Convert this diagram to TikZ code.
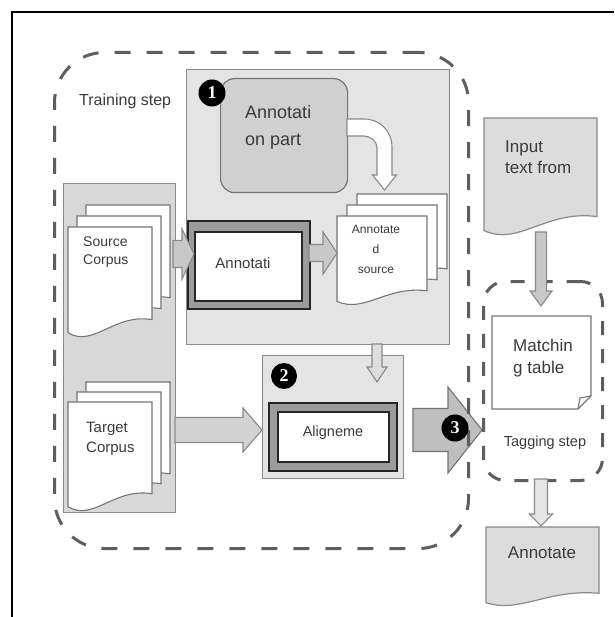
\documentclass[tikz,border=0pt]{standalone}
\usepackage{fontspec}
\setmainfont{Liberation Sans}
\newfontfamily\numfont{Liberation Serif}
\usetikzlibrary{calc}

\definecolor{ink}{HTML}{3A3A3A}
\definecolor{edge}{HTML}{8A8A8A}
\definecolor{dashc}{HTML}{5E5E5E}
\definecolor{panelfill}{HTML}{E4E4E4}
\definecolor{corpusfill}{HTML}{D8D8D8}
\definecolor{partfill}{HTML}{D0D0D0}
\definecolor{docfill}{HTML}{DCDCDC}
\definecolor{arrowfill}{HTML}{C8C8C8}
\definecolor{bandfill}{HTML}{9C9C9C}

% page with a wavy lower edge: x, y (top left), width, height, style
\newcommand\docsheet[5]{%
  \filldraw[#5] (#1,#2) -- ({#1+#3},#2) -- ({#1+#3},{#2+0.85*#4})
    .. controls ({#1+0.55*#3},{#2+0.79*#4}) and ({#1+0.3*#3},{#2+1.11*#4})
    .. (#1,{#2+0.97*#4}) -- cycle;}

% block arrow pointing right: [style]{from}{to}{shaft half}{head half}{head length}
\newcommand\rarrow[6][]{%
  \filldraw[#1] let \p1=(#2), \p2=(#3) in
    (\x1,{\y1+#4pt}) -- ({\x2-#6pt},{\y1+#4pt}) -- ({\x2-#6pt},{\y1+#5pt}) -- (\x2,\y1)
    -- ({\x2-#6pt},{\y1-#5pt}) -- ({\x2-#6pt},{\y1-#4pt}) -- (\x1,{\y1-#4pt}) -- cycle;}

% block arrow pointing down: [style]{from}{to}{shaft half}{head half}{head length}
\newcommand\darrow[6][]{%
  \filldraw[#1] let \p1=(#2), \p2=(#3) in
    ({\x1-#4pt},\y1) -- ({\x1-#4pt},{\y2+#6pt}) -- ({\x1-#5pt},{\y2+#6pt}) -- (\x1,\y2)
    -- ({\x1+#5pt},{\y2+#6pt}) -- ({\x1+#4pt},{\y2+#6pt}) -- ({\x1+#4pt},\y1) -- cycle;}

\tikzset{
  panel/.style={draw=edge, line width=1.2pt, rectangle, inner sep=0pt, anchor=north west},
  page/.style={draw=edge!85!black, fill=white, line width=1.1pt},
  graypage/.style={draw=edge, fill=docfill, line width=1.2pt},
  outerband/.style={panel, draw=black!85, fill=bandfill, line width=2pt},
  innerband/.style={panel, draw=black!85, fill=white, line width=1.6pt},
  blockarrow/.style={draw=edge, fill=arrowfill, line width=1.1pt},
  hollowarrow/.style={draw=edge, fill=white, line width=1.1pt},
  stepframe/.style={panel, draw=dashc, fill=none, line width=3pt,
    dash pattern=on 16pt off 16pt},
  numdot/.style={circle, fill=black, inner sep=0pt, minimum size=27pt, text=white,
    font=\numfont\bfseries\fontsize{18}{18}\selectfont},
  lbl/.style={text=ink, inner sep=0pt, align=left},
}

\begin{document}
\begin{tikzpicture}[x=1pt, y=-1pt]
\useasboundingbox (0,0) rectangle (614,617);
\fill[white] (0,0) rectangle (614,617);
\draw[line width=1.6pt, black] (12,617) -- (12,12) -- (614,12);

% ---- training side panels
\node[panel, fill=corpusfill, minimum width=112pt, minimum height=329pt] (corpus) at (63,183) {};
\node[panel, fill=panelfill, minimum width=263pt, minimum height=275pt] (stepone) at (186,69) {};
\node[panel, fill=panelfill, minimum width=141pt, minimum height=123pt] (steptwo) at (262,355) {};
\node[panel, fill=partfill, draw=edge!85!black, rounded corners=14pt,
      minimum width=127pt, minimum height=114pt] (annpart) at (220,78) {};

% ---- corpora stacks
\docsheet{86}{205}{84}{109}{page}
\docsheet{77}{216}{84}{109}{page}
\docsheet{68}{227}{84}{109}{page}
\docsheet{86}{382}{84}{108}{page}
\docsheet{77}{392}{84}{108}{page}
\docsheet{68}{402}{84}{108}{page}

% ---- annotated source stack
\docsheet{357}{194}{90}{88}{page}
\docsheet{347}{205}{90}{88}{page}
\docsheet{337}{216}{90}{88}{page}

% ---- process boxes with double borders
\node[outerband, minimum width=122pt, minimum height=88pt] (annbox) at (187,220) {};
\node[innerband, minimum width=107pt, minimum height=69pt] (anninner) at (194,231) {};
\node[outerband, minimum width=128pt, minimum height=68pt] (alignbox) at (268,402) {};
\node[innerband, minimum width=111pt, minimum height=50pt] (aligninner) at (277,411) {};

% ---- arrows inside the training step
\coordinate (srcout) at (173,254);
\coordinate (annout) at (309,253);
\coordinate (tgtout) at (175,430);
\coordinate (oneout) at (377,344);
\coordinate (twoin) at (377,382);
\rarrow[blockarrow]{srcout}{anninner.west}{13.5}{25}{12}
\rarrow[blockarrow]{annout}{337,253}{8.5}{21}{14}
\rarrow[blockarrow, fill=arrowfill!80!white]{tgtout}{steptwo.west}{12.5}{22}{19}
\darrow[blockarrow, fill=arrowfill!60!white]{oneout}{twoin}{5}{10}{15}

% curved hollow arrow from the annotation part down to the annotated source
\coordinate (partout) at (347,127.5);
\filldraw[hollowarrow] (347,119) -- (364,119)
  .. controls (380,119) and (392,131) .. (392,147.5) -- (392,175) -- (396.5,175)
  -- (384.5,190) -- (372.5,175) -- (377,175) -- (377,147.5)
  .. controls (377,141) and (370,136) .. (364,136) -- (347,136) -- cycle;

% ---- output arrow of the training step
\coordinate (threeout) at (413,430);
\coordinate (threetip) at (482,430);
\rarrow[blockarrow, fill=black!25, draw=black!55]{threeout}{threetip}{21.5}{43}{34}

% ---- dashed step frames
\node[stepframe, rounded corners=50pt, minimum width=414pt, minimum height=496pt] (training) at (53,51) {};
\node[stepframe, rounded corners=22pt, dash pattern=on 14pt off 14pt,
      minimum width=119pt, minimum height=199pt] (tagging) at (482,280) {};

% ---- numbered markers
\node[numdot] (one) at (212,93) {1};
\node[numdot, minimum size=26pt] (two) at (284,376) {2};
\node[numdot] (three) at (455,428) {3};

% ---- tagging side
\coordinate (inbot) at (541,232);
\coordinate (tagtop) at (541,306);
\coordinate (tagbot) at (541,479);
\coordinate (outtop) at (541,526);
\darrow[blockarrow]{inbot}{tagtop}{5.5}{11}{15}
\docsheet{484}{118}{113}{116}{graypage}
\darrow[blockarrow, fill=black!10]{tagbot}{outtop}{6.5}{11.5}{12}
\docsheet{486}{527}{113}{78}{graypage}

% matching table sheet with a folded corner
\filldraw[page] (492,316) -- (591,316) -- (591,396) -- (578,409) -- (492,409) -- cycle;
\draw[page, fill=none] (591,396) -- (580,398) -- (578,409);
\coordinate (matching) at (541,362);

% ---- labels
\node[lbl, anchor=west, font=\fontsize{16}{18}\selectfont] (trainlbl) at (79,101) {Training step};
\node[lbl, anchor=west, font=\fontsize{18}{27}\selectfont] (partlbl) at (245,127) {Annotati\\on part};
\node[lbl, anchor=west, font=\fontsize{14}{18}\selectfont] (srclbl) at (83,252) {Source\\Corpus};
\node[lbl, anchor=west, font=\fontsize{15}{20}\selectfont] (tgtlbl) at (86,439) {Target\\Corpus};
\node[lbl, font=\fontsize{15}{18}\selectfont] (annlbl) at (243,263) {Annotati};
\node[lbl, align=center, font=\fontsize{12}{20}\selectfont] (annsrclbl) at (376,249) {Annotate\\d\\source};
\node[lbl, font=\fontsize{14.5}{18}\selectfont] (alignlbl) at (333,433) {Aligneme};
\node[lbl, anchor=west, font=\fontsize{17}{21}\selectfont] (inlbl) at (505,157) {Input\\text from};
\node[lbl, anchor=west, font=\fontsize{17}{22}\selectfont] (matchlbl) at (513,358) {Matchin\\g table};
\node[lbl, font=\fontsize{14.5}{18}\selectfont] (taglbl) at (545,443) {Tagging step};
\node[lbl, font=\fontsize{17}{20}\selectfont] (outlbl) at (542,553) {Annotate};
\end{tikzpicture}
\end{document}
